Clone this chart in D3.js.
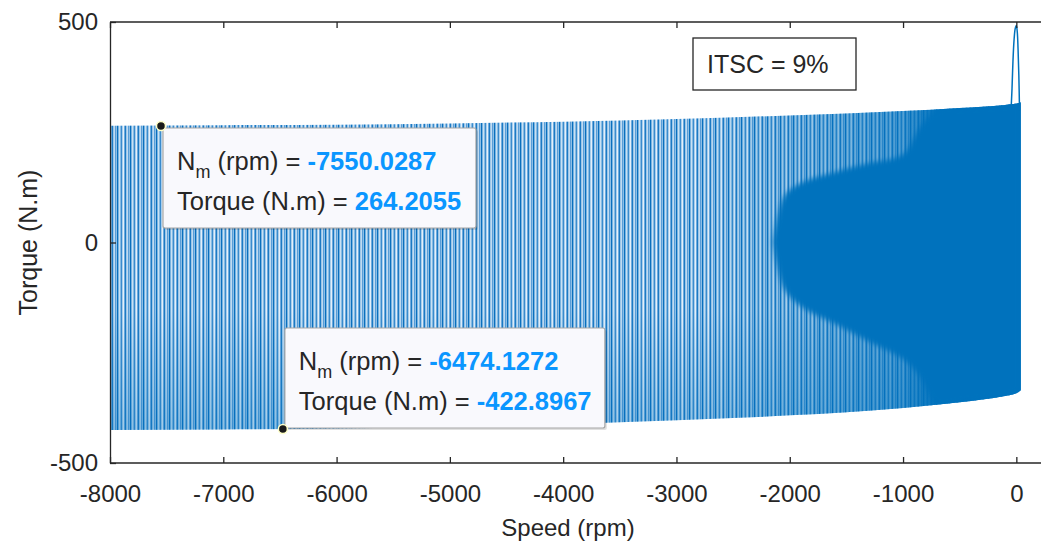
<!DOCTYPE html>
<html>
<head>
<meta charset="utf-8">
<script src="https://cdn.jsdelivr.net/npm/d3@7"></script>
<style>
  body { margin: 0; background: #fff; }
  text { font-family: "Liberation Sans", Arial, sans-serif; }
</style>
</head>
<body>
<script>
// envelope of the torque oscillation
const speed = [-8000, -7000, -6000, -5000, -4000, -3000, -2000, -1000, -500, -100, 0, 40];
const upper = [265, 266, 267, 270, 274, 280, 288, 298, 305, 312, 315, 318];
const lower = [-425, -424, -422, -418, -412, -403, -392, -375, -362, -348, -342, -335];

// solid dark core near standstill
const coreSpeed = [-2150, -2050, -1900, -1600, -1300, -1000, -850, -700, -500, -100, 0, 40];
const coreUpper = [0, 105, 135, 160, 180, 200, 262, 300, 305, 312, 315, 318];
const coreLower = [0, -105, -145, -185, -225, -265, -305, -368, -362, -348, -342, -335];

// narrow peak at zero speed
const spikeSpeed = [-45, -38, -30, -20, -10, 0, 8, 15, 22, 28];
const spikeTorque = [310, 350, 410, 460, 485, 492, 478, 440, 380, 300];

// data tips
const tips = [
  { speed: -7550.0287, torque: 264.2055 },
  { speed: -6474.1272, torque: -422.8967 }
];

const xTicks = [-8000, -7000, -6000, -5000, -4000, -3000, -2000, -1000, 0];
const yTicks = [-500, 0, 500];

const width = 1041, height = 548;
const blue = "#0072BD", axisCol = "#262626";

const svg = d3.select("body").append("svg")
  .attr("width", width).attr("height", height);

const x = d3.scaleLinear().domain([-8000, 200]).range([110, 1039]);
const y = d3.scaleLinear().domain([-500, 500]).range([463, 22]);

const defs = svg.append("defs");

// vertical stripes for the dense oscillation
const pat = defs.append("pattern").attr("id", "stripes")
  .attr("patternUnits", "userSpaceOnUse").attr("width", 13).attr("height", 10);
const stripeCols = ["#0a6fbd", "#7ab3e0", "#c9e1f3", "#86bbe4", "#3a8bcd", "#a9ceec", "#e4f0fa",
                    "#6eaadd", "#1c7ac3", "#9cc6e9", "#c0dbf1", "#5a9ed8", "#8dbfe6"];
stripeCols.forEach((c, i) => {
  pat.append("rect").attr("x", i).attr("y", 0).attr("width", 1).attr("height", 10).attr("fill", c);
});

// fade of the stripes toward the right
const grad = defs.append("linearGradient").attr("id", "fade")
  .attr("gradientUnits", "userSpaceOnUse")
  .attr("x1", x(-2800)).attr("x2", x(-700)).attr("y1", 0).attr("y2", 0);
grad.append("stop").attr("offset", 0).attr("stop-color", blue).attr("stop-opacity", 0);
grad.append("stop").attr("offset", 0.5).attr("stop-color", blue).attr("stop-opacity", 0.35);
grad.append("stop").attr("offset", 0.85).attr("stop-color", blue).attr("stop-opacity", 0.6);
grad.append("stop").attr("offset", 1).attr("stop-color", blue).attr("stop-opacity", 1);

// slightly darker lower part on the left
const vgrad = defs.append("linearGradient").attr("id", "lowShade")
  .attr("gradientUnits", "userSpaceOnUse")
  .attr("x1", 0).attr("x2", 0).attr("y1", y(-150)).attr("y2", y(-420));
vgrad.append("stop").attr("offset", 0).attr("stop-color", blue).attr("stop-opacity", 0);
vgrad.append("stop").attr("offset", 1).attr("stop-color", blue).attr("stop-opacity", 0.3);

defs.append("filter").attr("id", "soft")
  .append("feGaussianBlur").attr("stdDeviation", 2.5);

const env = speed.map((s, i) => ({ s: s, hi: upper[i], lo: lower[i] }));
const core = coreSpeed.map((s, i) => ({ s: s, hi: coreUpper[i], lo: coreLower[i] }));

const area = d3.area()
  .x(d => x(d.s)).y0(d => y(d.lo)).y1(d => y(d.hi))
  .curve(d3.curveMonotoneX);

svg.append("path").datum(env).attr("d", area).attr("fill", "url(#stripes)");
svg.append("path").datum(env).attr("d", area).attr("fill", "url(#lowShade)");
svg.append("path").datum(env).attr("d", area).attr("fill", "url(#fade)");

svg.append("clipPath").attr("id", "envClip")
  .append("path").datum(env).attr("d", area);

svg.append("path").datum(core)
  .attr("d", area.curve(d3.curveCatmullRom))
  .attr("fill", blue)
  .attr("filter", "url(#soft)")
  .attr("clip-path", "url(#envClip)");

// peak
svg.append("path")
  .datum(spikeSpeed.map((s, i) => [s, spikeTorque[i]]))
  .attr("d", d3.line().x(d => x(d[0])).y(d => y(d[1])).curve(d3.curveCatmullRom))
  .attr("fill", "none").attr("stroke", blue).attr("stroke-width", 1.5);

// axes
const fmt = d => String(d);
const gx = svg.append("g").attr("transform", `translate(0,${y(-500)})`)
  .call(d3.axisBottom(x).tickValues(xTicks).tickFormat(fmt).tickSizeInner(-6).tickSizeOuter(0).tickPadding(22));
const gt = svg.append("g").attr("transform", `translate(0,${y(500)})`)
  .call(d3.axisTop(x).tickValues(xTicks).tickSizeInner(-6).tickSizeOuter(0).tickFormat(""));
const gy = svg.append("g").attr("transform", `translate(${x(-8000)},0)`)
  .call(d3.axisLeft(y).tickValues(yTicks).tickFormat(fmt).tickSizeInner(-6).tickSizeOuter(0).tickPadding(12));

[gx, gt, gy].forEach(g => {
  g.select(".domain").attr("stroke", axisCol).attr("stroke-width", 1.3);
  g.selectAll(".tick line").attr("stroke", axisCol).attr("stroke-width", 1.3);
  g.selectAll(".tick text").attr("fill", axisCol).style("font-size", "24px")
    .style("font-family", '"Liberation Sans", Arial, sans-serif');
});
gx.select(".domain").attr("d", `M${x(-8000)},0H${width}`);
gt.select(".domain").attr("d", `M${x(-8000)},0H${width}`);

svg.append("text").attr("x", 568).attr("y", 536)
  .attr("text-anchor", "middle").attr("fill", axisCol).style("font-size", "24px")
  .text("Speed (rpm)");
svg.append("text").attr("transform", `translate(37,${y(0)}) rotate(-90)`)
  .attr("text-anchor", "middle").attr("fill", axisCol).style("font-size", "25px")
  .text("Torque (N.m)");

// ITSC annotation
svg.append("rect").attr("x", 693).attr("y", 38).attr("width", 163).attr("height", 52)
  .attr("fill", "#fff").attr("stroke", axisCol).attr("stroke-width", 1.3);
svg.append("text").attr("x", 707).attr("y", 73).attr("fill", axisCol)
  .style("font-size", "25px").text("ITSC = 9%");

// data tips
const boxes = [
  { dx: 2, dy: 2, w: 313, h: 100 },
  { dx: 2, dy: -101, w: 320, h: 100 }
];
tips.forEach((t, i) => {
  const px = x(t.speed), py = y(t.torque), b = boxes[i];
  const bx = px + b.dx, by = py + b.dy;
  const g = svg.append("g");
  g.append("rect").attr("x", bx + 2).attr("y", by + 2).attr("width", b.w).attr("height", b.h)
    .attr("fill", "#000").attr("opacity", 0.12).attr("rx", 2);
  g.append("rect").attr("x", bx).attr("y", by).attr("width", b.w).attr("height", b.h)
    .attr("fill", "#f9f9fd").attr("stroke", "#a6a6a6").attr("stroke-width", 1.2).attr("rx", 2);
  const t1 = g.append("text").attr("x", bx + 14).attr("y", by + 42)
    .attr("fill", axisCol).style("font-size", "25.5px");
  t1.append("tspan").text("N");
  t1.append("tspan").attr("dy", 8).style("font-size", "18px").text("m");
  t1.append("tspan").attr("dy", -8).text(" (rpm) = ");
  t1.append("tspan").attr("fill", "#0a96ff").attr("font-weight", "bold").text(t.speed.toFixed(4));
  const t2 = g.append("text").attr("x", bx + 14).attr("y", by + 82)
    .attr("fill", axisCol).style("font-size", "25.5px");
  t2.append("tspan").text("Torque (N.m) = ");
  t2.append("tspan").attr("fill", "#0a96ff").attr("font-weight", "bold").text(t.torque.toFixed(4));
  g.append("circle").attr("cx", px).attr("cy", py).attr("r", 4.5)
    .attr("fill", "#1a1a1a").attr("stroke", "#ffffc8").attr("stroke-width", 1.5);
});
</script>
</body>
</html>
